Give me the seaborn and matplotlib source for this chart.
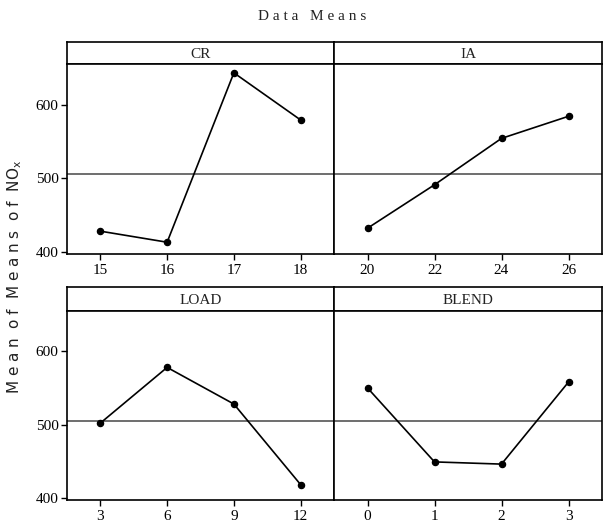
import numpy as np
import pandas as pd
import matplotlib
matplotlib.use("Agg")
import matplotlib.pyplot as plt
import seaborn as sns

# Main-effects data: mean NOx response at each level of every factor
factors = ["CR", "IA", "LOAD", "BLEND"]
cr_levels = ["15", "16", "17", "18"]
cr_means = [428, 413, 643, 579]
ia_levels = ["20", "22", "24", "26"]
ia_means = [432, 491, 554, 584]
load_levels = ["3", "6", "9", "12"]
load_means = [502, 578, 528, 418]
blend_levels = ["0", "1", "2", "3"]
blend_means = [550, 449, 446, 558]
grand_mean = 505.5
y_ticks = [400, 500, 600]

levels = {"CR": cr_levels, "IA": ia_levels, "LOAD": load_levels, "BLEND": blend_levels}
means = {"CR": cr_means, "IA": ia_means, "LOAD": load_means, "BLEND": blend_means}

df = pd.concat(
    [pd.DataFrame({"factor": f, "level": levels[f], "mean": means[f]}) for f in factors],
    ignore_index=True,
)

sns.set_theme(style="white")
plt.rcParams["font.family"] = ["Liberation Serif", "DejaVu Serif"]
plt.rcParams["axes.edgecolor"] = "black"
plt.rcParams["axes.linewidth"] = 1.2
plt.rcParams["xtick.color"] = "black"
plt.rcParams["ytick.color"] = "black"
plt.rcParams["text.color"] = "#222222"

W, H = 606, 531
fig = plt.figure(figsize=(W / 100, H / 100), dpi=100)


def frac(x0, y0, x1, y1):
    """Pixel box (top-left origin) -> figure fraction rect."""
    return [x0 / W, 1 - y1 / H, (x1 - x0) / W, (y1 - y0) / H]


cols = [(67, 334), (334, 602)]
rows = [((42, 64), (64, 254)), ((287, 311), (311, 500))]
ylim = (397, 655)

for i, f in enumerate(factors):
    r, c = divmod(i, 2)
    (hx0, hx1) = cols[c]
    (h_top, h_bot), (p_top, p_bot) = rows[r]

    # strip header
    hax = fig.add_axes(frac(hx0, h_top, hx1, h_bot))
    hax.set_xticks([])
    hax.set_yticks([])
    for s in hax.spines.values():
        s.set_linewidth(1.2)
        s.set_color("black")
    hax.text(0.5, 0.45, f, ha="center", va="center", fontsize=11,
             transform=hax.transAxes)

    ax = fig.add_axes(frac(hx0, p_top, hx1, p_bot))
    sub = df[df["factor"] == f]
    ax.axhline(grand_mean, color="#555555", lw=1.2, zorder=1)
    sns.pointplot(data=sub, x="level", y="mean", order=levels[f], color="black",
                  errorbar=None, markers="o", markersize=4.5, linewidth=1.2, ax=ax)
    ax.set_xlim(-0.5, 3.5)
    ax.set_ylim(*ylim)
    ax.set_xlabel("")
    ax.set_ylabel("")
    ax.tick_params(axis="x", length=4, width=1, labelsize=11, pad=3, direction="out",
                   bottom=True)
    if c == 0:
        ax.set_yticks(y_ticks)
        ax.tick_params(axis="y", length=4, width=1, labelsize=11, pad=2, direction="out",
                       left=True)
    else:
        ax.set_yticks([])
    for s in ax.spines.values():
        s.set_linewidth(1.2)
        s.set_color("black")

fig.text(312 / W, 1 - 17 / H, "D a t a   M e a n s", ha="center", va="center",
         fontsize=11)
fig.text(15 / W, 1 - 277 / H, r"M e a n  o f  M e a n s  o f  NO$_\mathregular{x}$",
         rotation=90, ha="center", va="center", fontsize=11,
         family=["DejaVu Sans"])

fig.savefig("out.png", dpi=100)
